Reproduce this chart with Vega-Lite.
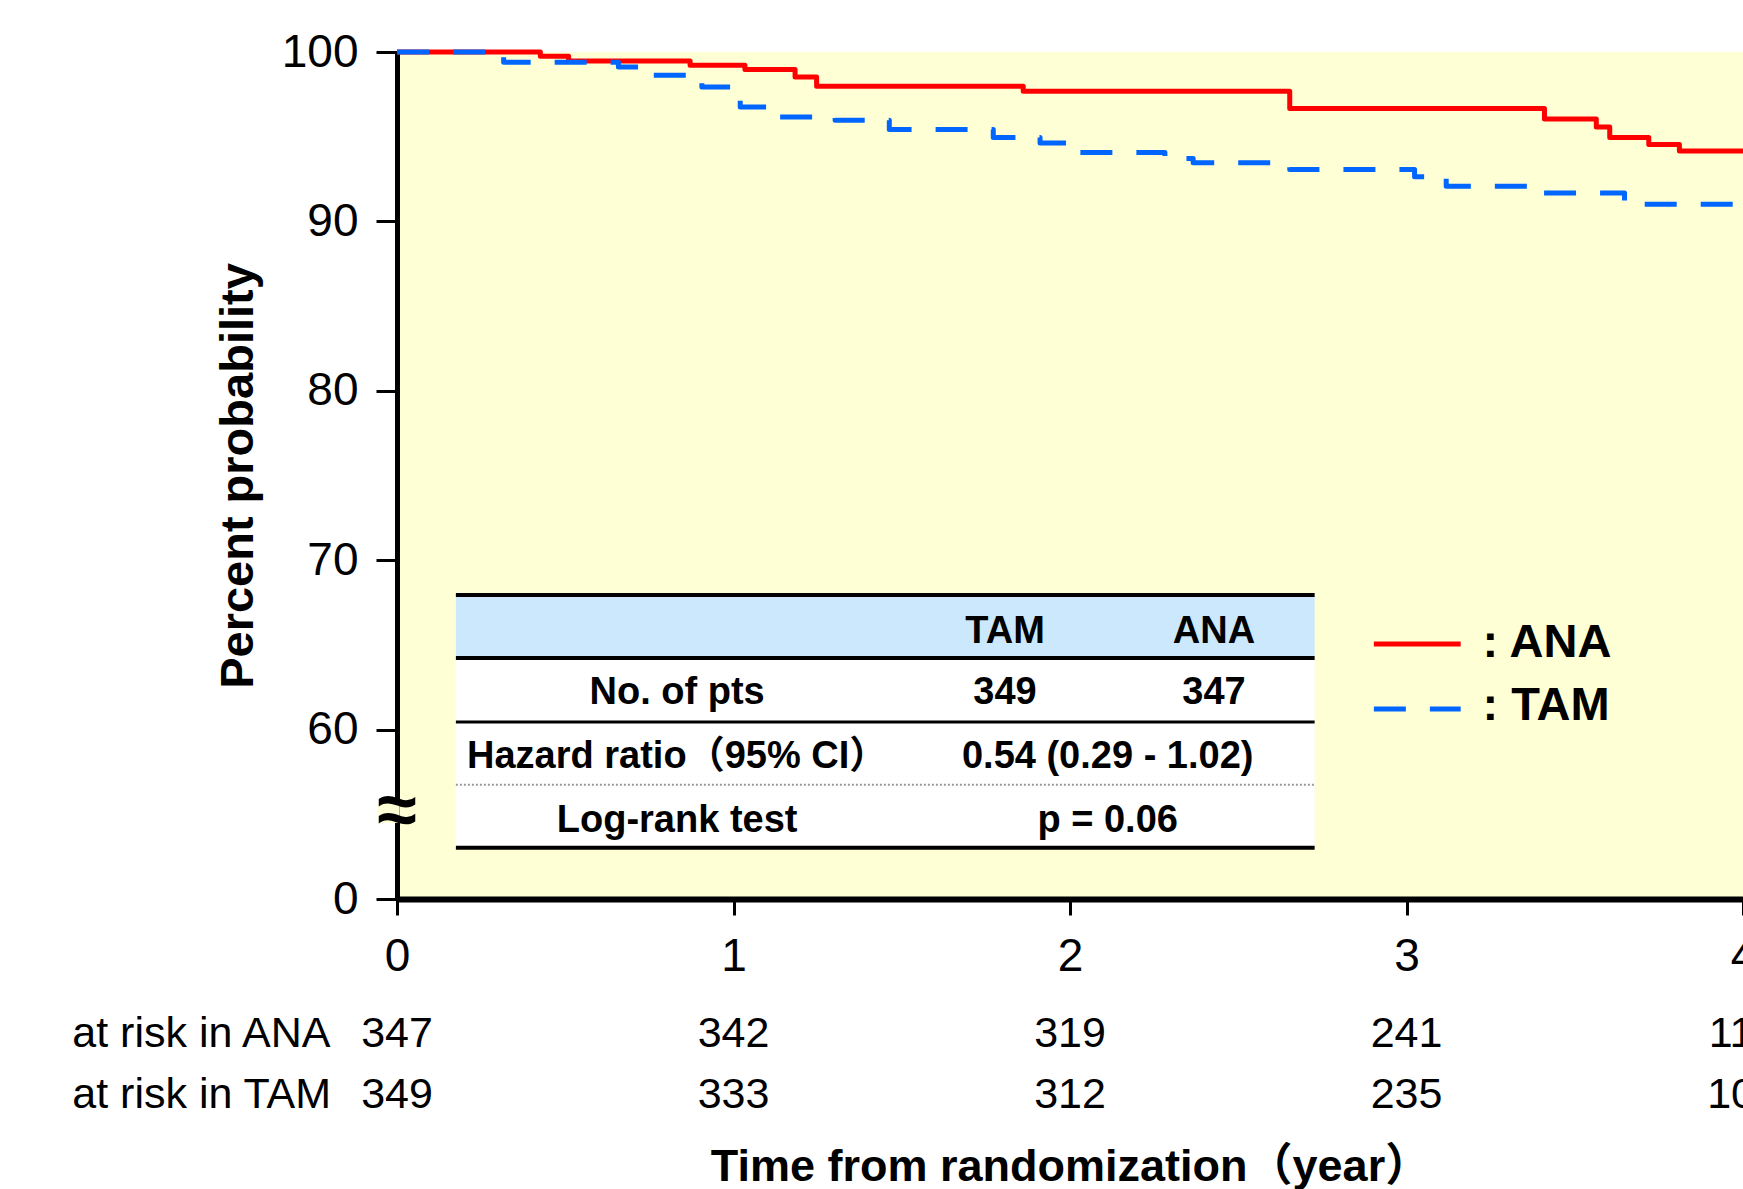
{
  "$schema": "https://vega.github.io/schema/vega-lite/v6.json",
  "width": 1346,
  "height": 847,
  "autosize": {"type": "none"},
  "padding": {"left": 397, "top": 52, "right": 0, "bottom": 290},
  "background": "white",
  "config": {
    "font": "Liberation Sans, Noto Sans CJK JP, sans-serif",
    "view": {"fill": "#FFFFD6", "stroke": null},
    "style": {
      "tbl": {"fontSize": 38, "fontWeight": "bold", "align": "center", "baseline": "alphabetic", "color": "black"},
      "risk": {"fontSize": 43, "baseline": "alphabetic", "color": "black"},
      "tline": {"color": "black", "strokeWidth": 4}
    }
  },
  "datasets": {
    "km": [
      {"arm": "ANA", "year": 0, "pct": 100},
      {"arm": "ANA", "year": 0.426, "pct": 99.75},
      {"arm": "ANA", "year": 0.51, "pct": 99.47},
      {"arm": "ANA", "year": 0.871, "pct": 99.22},
      {"arm": "ANA", "year": 1.034, "pct": 98.96},
      {"arm": "ANA", "year": 1.183, "pct": 98.53},
      {"arm": "ANA", "year": 1.247, "pct": 97.98},
      {"arm": "ANA", "year": 1.861, "pct": 97.68},
      {"arm": "ANA", "year": 2.653, "pct": 96.66},
      {"arm": "ANA", "year": 3.41, "pct": 96.05},
      {"arm": "ANA", "year": 3.564, "pct": 95.58},
      {"arm": "ANA", "year": 3.604, "pct": 94.95},
      {"arm": "ANA", "year": 3.72, "pct": 94.54},
      {"arm": "ANA", "year": 3.811, "pct": 94.16},
      {"arm": "ANA", "year": 4.0, "pct": 94.16},
      {"arm": "TAM", "year": 0, "pct": 100},
      {"arm": "TAM", "year": 0.317, "pct": 99.39},
      {"arm": "TAM", "year": 0.658, "pct": 99.12},
      {"arm": "TAM", "year": 0.742, "pct": 98.63},
      {"arm": "TAM", "year": 0.906, "pct": 97.94},
      {"arm": "TAM", "year": 1.02, "pct": 96.76},
      {"arm": "TAM", "year": 1.133, "pct": 96.17},
      {"arm": "TAM", "year": 1.302, "pct": 95.97},
      {"arm": "TAM", "year": 1.463, "pct": 95.43},
      {"arm": "TAM", "year": 1.772, "pct": 94.95},
      {"arm": "TAM", "year": 1.911, "pct": 94.63},
      {"arm": "TAM", "year": 2.029, "pct": 94.06},
      {"arm": "TAM", "year": 2.282, "pct": 93.71},
      {"arm": "TAM", "year": 2.366, "pct": 93.46},
      {"arm": "TAM", "year": 2.653, "pct": 93.06},
      {"arm": "TAM", "year": 3.024, "pct": 92.63},
      {"arm": "TAM", "year": 3.118, "pct": 92.08},
      {"arm": "TAM", "year": 3.376, "pct": 91.68},
      {"arm": "TAM", "year": 3.648, "pct": 91.01},
      {"arm": "TAM", "year": 4.0, "pct": 91.01}
    ],
    "atrisk": [
      {"arm": "ANA", "year": 0, "n": 347},
      {"arm": "ANA", "year": 1, "n": 342},
      {"arm": "ANA", "year": 2, "n": 319},
      {"arm": "ANA", "year": 3, "n": 241},
      {"arm": "ANA", "year": 4, "n": 116},
      {"arm": "TAM", "year": 0, "n": 349},
      {"arm": "TAM", "year": 1, "n": 333},
      {"arm": "TAM", "year": 2, "n": 312},
      {"arm": "TAM", "year": 3, "n": 235},
      {"arm": "TAM", "year": 4, "n": 106}
    ],
    "one": [{}]
  },
  "layer": [
    {
      "data": {"name": "km"},
      "mark": {"type": "line", "interpolate": "step-after", "strokeWidth": 5, "strokeJoin": "round", "strokeCap": "butt"},
      "encoding": {
        "x": {
          "field": "year", "type": "quantitative",
          "scale": {"domain": [0, 4], "nice": false, "zero": false},
          "axis": {
            "values": [0, 1, 2, 3, 4], "format": "d", "labelFlush": false, "labelOverlap": false,
            "labelFontSize": 46, "labelColor": "black", "labelPadding": 19,
            "tickSize": 16, "tickWidth": 3, "tickColor": "black",
            "domainColor": "black", "domainWidth": 6, "grid": false,
            "title": "Time from randomization（year）", "titleFontSize": 45, "titleFontWeight": "bold",
            "titleColor": "black", "titlePadding": 165
          }
        },
        "y": {
          "field": "pct", "type": "quantitative",
          "scale": {"domain": [50, 100], "nice": false, "zero": false},
          "axis": {
            "values": [50, 60, 70, 80, 90, 100],
            "labelExpr": "datum.value == 50 ? '0' : datum.label",
            "labelFontSize": 46, "labelColor": "black", "labelPadding": 18,
            "tickSize": 21, "tickWidth": 3, "tickColor": "black",
            "domainColor": "black", "domainWidth": 5, "grid": false,
            "title": "Percent probability", "titleFontSize": 47, "titleFontWeight": "bold",
            "titleColor": "black", "titlePadding": 19
          }
        },
        "color": {"field": "arm", "type": "nominal", "scale": {"domain": ["ANA", "TAM"], "range": ["#FF0000", "#0066FF"]}, "legend": null},
        "strokeDash": {"field": "arm", "type": "nominal", "scale": {"domain": ["ANA", "TAM"], "range": [[1, 0], [32, 24]]}, "legend": null}
      }
    },
    {
      "data": {"name": "one"},
      "mark": {"type": "rect", "fill": "#CCE8FC"},
      "encoding": {"x": {"datum": 0.175, "type": "quantitative"}, "x2": {"datum": 2.727}, "y": {"datum": 67.95, "type": "quantitative"}, "y2": {"datum": 64.23}}
    },
    {
      "data": {"name": "one"},
      "mark": {"type": "rect", "fill": "white"},
      "encoding": {"x": {"datum": 0.175, "type": "quantitative"}, "x2": {"datum": 2.727}, "y": {"datum": 64.23, "type": "quantitative"}, "y2": {"datum": 53.02}}
    },
    {
      "data": {"name": "one"},
      "mark": {"type": "rule", "style": "tline"},
      "encoding": {"x": {"datum": 0.175, "type": "quantitative"}, "x2": {"datum": 2.727}, "y": {"datum": 67.95, "type": "quantitative"}}
    },
    {
      "data": {"name": "one"},
      "mark": {"type": "rule", "style": "tline"},
      "encoding": {"x": {"datum": 0.175, "type": "quantitative"}, "x2": {"datum": 2.727}, "y": {"datum": 64.23, "type": "quantitative"}}
    },
    {
      "data": {"name": "one"},
      "mark": {"type": "rule", "color": "black", "strokeWidth": 3},
      "encoding": {"x": {"datum": 0.175, "type": "quantitative"}, "x2": {"datum": 2.727}, "y": {"datum": 60.45, "type": "quantitative"}}
    },
    {
      "data": {"name": "one"},
      "mark": {"type": "rule", "color": "#999999", "strokeWidth": 2, "strokeDash": [2, 2]},
      "encoding": {"x": {"datum": 0.175, "type": "quantitative"}, "x2": {"datum": 2.727}, "y": {"datum": 56.74, "type": "quantitative"}}
    },
    {
      "data": {"name": "one"},
      "mark": {"type": "rule", "style": "tline"},
      "encoding": {"x": {"datum": 0.175, "type": "quantitative"}, "x2": {"datum": 2.727}, "y": {"datum": 53.02, "type": "quantitative"}}
    },
    {
      "data": {"name": "one"},
      "mark": {"type": "text", "style": "tbl"},
      "encoding": {"x": {"datum": 1.807, "type": "quantitative"}, "y": {"datum": 65.12, "type": "quantitative"}, "text": {"value": "TAM"}}
    },
    {
      "data": {"name": "one"},
      "mark": {"type": "text", "style": "tbl"},
      "encoding": {"x": {"datum": 2.428, "type": "quantitative"}, "y": {"datum": 65.12, "type": "quantitative"}, "text": {"value": "ANA"}}
    },
    {
      "data": {"name": "one"},
      "mark": {"type": "text", "style": "tbl"},
      "encoding": {"x": {"datum": 0.8325, "type": "quantitative"}, "y": {"datum": 61.52, "type": "quantitative"}, "text": {"value": "No. of pts"}}
    },
    {
      "data": {"name": "one"},
      "mark": {"type": "text", "style": "tbl"},
      "encoding": {"x": {"datum": 1.807, "type": "quantitative"}, "y": {"datum": 61.52, "type": "quantitative"}, "text": {"value": "349"}}
    },
    {
      "data": {"name": "one"},
      "mark": {"type": "text", "style": "tbl"},
      "encoding": {"x": {"datum": 2.428, "type": "quantitative"}, "y": {"datum": 61.52, "type": "quantitative"}, "text": {"value": "347"}}
    },
    {
      "data": {"name": "one"},
      "mark": {"type": "text", "style": "tbl"},
      "encoding": {"x": {"datum": 0.8325, "type": "quantitative"}, "y": {"datum": 57.74, "type": "quantitative"}, "text": {"value": "Hazard ratio（95% CI）"}}
    },
    {
      "data": {"name": "one"},
      "mark": {"type": "text", "style": "tbl"},
      "encoding": {"x": {"datum": 2.112, "type": "quantitative"}, "y": {"datum": 57.74, "type": "quantitative"}, "text": {"value": "0.54 (0.29 - 1.02)"}}
    },
    {
      "data": {"name": "one"},
      "mark": {"type": "text", "style": "tbl"},
      "encoding": {"x": {"datum": 0.8325, "type": "quantitative"}, "y": {"datum": 53.97, "type": "quantitative"}, "text": {"value": "Log-rank test"}}
    },
    {
      "data": {"name": "one"},
      "mark": {"type": "text", "style": "tbl"},
      "encoding": {"x": {"datum": 2.112, "type": "quantitative"}, "y": {"datum": 53.97, "type": "quantitative"}, "text": {"value": "p = 0.06"}}
    },
    {
      "data": {"name": "one"},
      "mark": {"type": "rule", "color": "#FF0000", "strokeWidth": 5},
      "encoding": {"x": {"datum": 2.903, "type": "quantitative"}, "x2": {"datum": 3.161}, "y": {"datum": 65.06, "type": "quantitative"}}
    },
    {
      "data": {"name": "one"},
      "mark": {"type": "rule", "color": "#0066FF", "strokeWidth": 5, "strokeDash": [32, 24]},
      "encoding": {"x": {"datum": 2.903, "type": "quantitative"}, "x2": {"datum": 3.161}, "y": {"datum": 61.22, "type": "quantitative"}}
    },
    {
      "data": {"name": "one"},
      "mark": {"type": "text", "fontSize": 47, "fontWeight": "bold", "align": "left", "baseline": "alphabetic", "color": "black"},
      "encoding": {"x": {"datum": 3.226, "type": "quantitative"}, "y": {"datum": 64.29, "type": "quantitative"}, "text": {"value": ": ANA"}}
    },
    {
      "data": {"name": "one"},
      "mark": {"type": "text", "fontSize": 47, "fontWeight": "bold", "align": "left", "baseline": "alphabetic", "color": "black"},
      "encoding": {"x": {"datum": 3.226, "type": "quantitative"}, "y": {"datum": 60.57, "type": "quantitative"}, "text": {"value": ": TAM"}}
    },
    {
      "data": {"name": "one"},
      "mark": {"type": "rect", "fill": "#FFFFD6"},
      "encoding": {"x": {"datum": -0.056, "type": "quantitative"}, "x2": {"datum": 0.008}, "y": {"datum": 55.73, "type": "quantitative"}, "y2": {"datum": 54.49}}
    },
    {
      "data": {"name": "one"},
      "mark": {"type": "text", "fontSize": 72, "fontWeight": "bold", "align": "center", "baseline": "middle", "color": "black"},
      "encoding": {"x": {"datum": 0, "type": "quantitative"}, "y": {"datum": 55.14, "type": "quantitative"}, "text": {"value": "≈"}}
    },
    {
      "data": {"name": "atrisk"},
      "transform": [{"filter": "datum.arm == 'ANA'"}],
      "mark": {"type": "text", "style": "risk", "align": "center"},
      "encoding": {"x": {"field": "year", "type": "quantitative"}, "y": {"datum": 41.28, "type": "quantitative"}, "text": {"field": "n"}}
    },
    {
      "data": {"name": "atrisk"},
      "transform": [{"filter": "datum.arm == 'TAM'"}],
      "mark": {"type": "text", "style": "risk", "align": "center"},
      "encoding": {"x": {"field": "year", "type": "quantitative"}, "y": {"datum": 37.68, "type": "quantitative"}, "text": {"field": "n"}}
    },
    {
      "data": {"name": "one"},
      "mark": {"type": "text", "style": "risk", "align": "left"},
      "encoding": {"x": {"datum": -0.965, "type": "quantitative"}, "y": {"datum": 41.28, "type": "quantitative"}, "text": {"value": "at risk in ANA"}}
    },
    {
      "data": {"name": "one"},
      "mark": {"type": "text", "style": "risk", "align": "left"},
      "encoding": {"x": {"datum": -0.965, "type": "quantitative"}, "y": {"datum": 37.68, "type": "quantitative"}, "text": {"value": "at risk in TAM"}}
    }
  ]
}
